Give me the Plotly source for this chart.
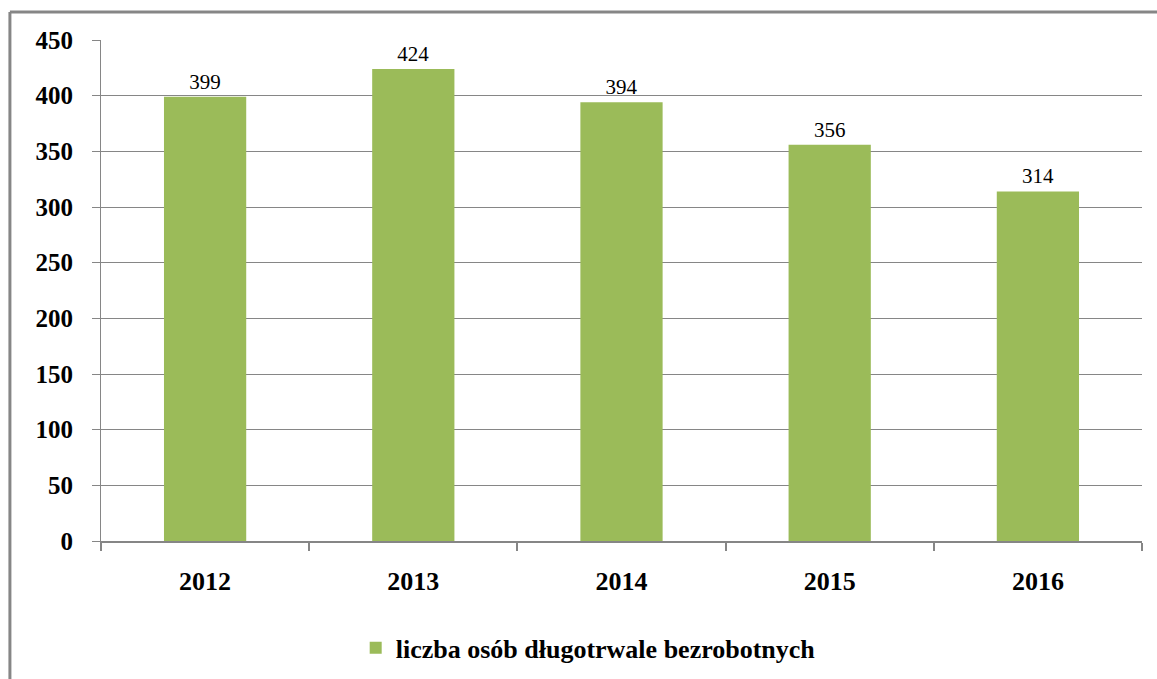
import plotly.graph_objects as go

years = ["2012", "2013", "2014", "2015", "2016"]
values = [399, 424, 394, 356, 314]
series_name = "liczba osób długotrwale bezrobotnych"
y_ticks = [0, 50, 100, 150, 200, 250, 300, 350, 400, 450]

GRAY = "#868686"
GREEN = "#9BBB59"
SERIF = "Liberation Serif"

fig = go.Figure()
fig.add_trace(go.Bar(
    x=years,
    y=values,
    name=series_name,
    marker=dict(color=GREEN, line=dict(width=0)),
    text=[str(v) for v in values],
    textposition="outside",
    textfont=dict(family=SERIF, size=21, color="black"),
    cliponaxis=False,
    showlegend=True,
))

fig.update_layout(
    width=1157,
    height=679,
    margin=dict(l=101, r=15, t=40, b=138),
    paper_bgcolor="white",
    plot_bgcolor="white",
    bargap=0.605,
    font=dict(family=SERIF, color="black"),
    legend=dict(
        orientation="h",
        x=0.468,
        xanchor="center",
        yref="container",
        y=0.046,
        yanchor="middle",
        font=dict(family=SERIF, size=26, color="black", weight="bold"),
        itemwidth=30,
    ),
    xaxis=dict(
        automargin=False,
        showline=True,
        linecolor=GRAY,
        linewidth=2,
        ticks="outside",
        tickson="boundaries",
        ticklen=8,
        tickwidth=2,
        tickcolor=GRAY,
        tickfont=dict(family=SERIF, size=26, color="black", weight="bold"),
        showgrid=False,
        ticklabelstandoff=16,
    ),
    yaxis=dict(
        automargin=False,
        range=[0, 450],
        tickvals=y_ticks,
        showline=True,
        linecolor=GRAY,
        linewidth=1,
        ticks="outside",
        ticklen=8,
        tickwidth=1,
        tickcolor=GRAY,
        showgrid=True,
        gridcolor=GRAY,
        gridwidth=1,
        zeroline=False,
        tickfont=dict(family=SERIF, size=25, color="black", weight="bold"),
        ticklabelstandoff=14,
    ),
)

# Outer frame around the chart (left and top edges visible)
fig.add_shape(type="line", xref="paper", yref="paper",
              x0=-0.0875, x1=1.02, y0=1.056, y1=1.056,
              line=dict(color=GRAY, width=3))
fig.add_shape(type="line", xref="paper", yref="paper",
              x0=-0.0875, x1=-0.0875, y0=1.056, y1=-0.3,
              line=dict(color=GRAY, width=3))

fig.write_html("out.html")
